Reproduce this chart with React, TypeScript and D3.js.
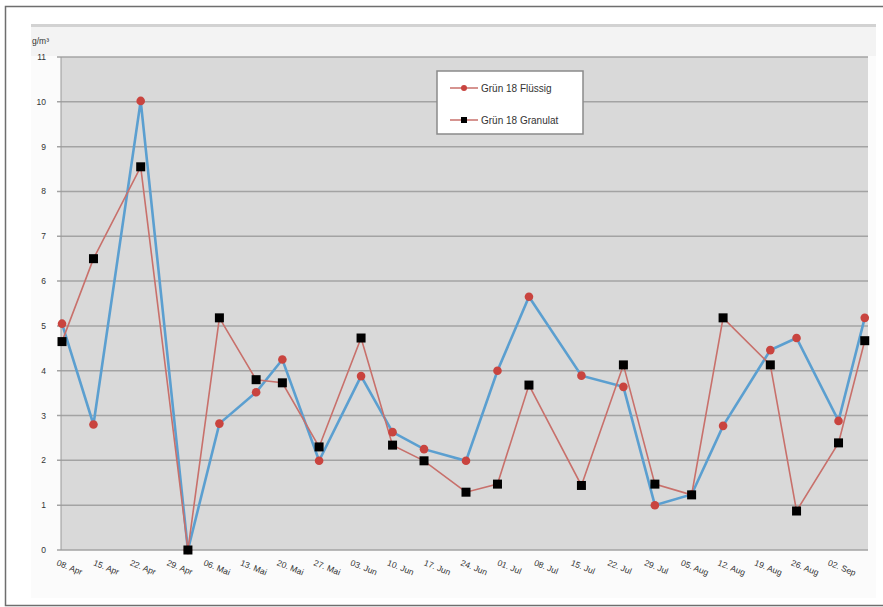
import React from 'react';
import * as d3 from 'd3';

// sample dates (2013)
const sampleDates = [
  '2013-04-08', '2013-04-14', '2013-04-23', '2013-05-02', '2013-05-08', '2013-05-15',
  '2013-05-20', '2013-05-27', '2013-06-04', '2013-06-10', '2013-06-16', '2013-06-24',
  '2013-06-30', '2013-07-06', '2013-07-16', '2013-07-24', '2013-07-30', '2013-08-06',
  '2013-08-12', '2013-08-21', '2013-08-26', '2013-09-03', '2013-09-08',
];

const fluessig = [
  5.05, 2.8, 10.02, 0, 2.82, 3.52, 4.25, 1.99, 3.88, 2.63, 2.25, 1.99,
  4.0, 5.65, 3.89, 3.64, 1.0, 1.24, 2.77, 4.46, 4.73, 2.88, 5.18,
];

const granulat = [
  4.65, 6.5, 8.55, 0, 5.18, 3.8, 3.73, 2.3, 4.73, 2.34, 1.99, 1.29,
  1.47, 3.68, 1.44, 4.13, 1.47, 1.23, 5.18, 4.13, 0.87, 2.39, 4.67,
];

const seriesNames = ['Grün 18 Flüssig', 'Grün 18 Granulat'];

const tickLabels = [
  '08. Apr', '15. Apr', '22. Apr', '29. Apr', '06. Mai', '13. Mai', '20. Mai', '27. Mai',
  '03. Jun', '10. Jun', '17. Jun', '24. Jun', '01. Jul', '08. Jul', '15. Jul', '22. Jul',
  '29. Jul', '05. Aug', '12. Aug', '19. Aug', '26. Aug', '02. Sep',
];

const yTicks = d3.range(0, 12);

const W = 883;
const H = 607;
const plot = { left: 61, right: 868, top: 57, bottom: 550 };

const blue = '#5b9fd0';
const redLine = '#c8706b';
const redDot = '#c9443f';

const App = () => {
  const parse = d3.timeParse('%Y-%m-%d');
  const dates = sampleDates.map((d) => parse(d) as Date);
  const start = parse('2013-04-08') as Date;
  const end = parse('2013-09-09') as Date;

  const x = d3.scaleTime().domain([start, end]).range([62, 870]);
  const y = d3.scaleLinear().domain([0, 11]).range([plot.bottom, plot.top]);

  const tickDates = tickLabels.map((_, i) => d3.timeDay.offset(start, i * 7));

  const line = d3
    .line<number>()
    .x((_, i) => x(dates[i]))
    .y((d) => y(d));

  const font = 'Arial, "Liberation Sans", sans-serif';

  return (
    <svg
      width={W}
      height={H}
      style={{ position: 'absolute', left: 0, top: 0, background: '#fff' }}
      fontFamily={font}
    >
      {/* outer frame */}
      <rect x={5.5} y={6.5} width={W + 10} height={H - 8} fill="#fff" stroke="#6e6e6e" strokeWidth={1.5} />

      {/* chart area */}
      <rect x={31} y={24} width={845} height={574} fill="#fbfbfb" />
      <rect x={31} y={24} width={845} height={3} fill="#d2d2d2" />
      <rect x={31} y={27} width={845} height={29} fill="#f3f3f3" />

      {/* plot area */}
      <rect
        x={plot.left}
        y={plot.top}
        width={plot.right - plot.left}
        height={plot.bottom - plot.top}
        fill="#d9d9d9"
      />
      {yTicks.map((t) => (
        <line
          key={`g${t}`}
          x1={plot.left - 4}
          x2={plot.right}
          y1={y(t)}
          y2={y(t)}
          stroke="#a3a3a3"
          strokeWidth={1.5}
        />
      ))}
      <line x1={plot.left} x2={plot.left} y1={plot.top} y2={plot.bottom} stroke="#9a9a9a" strokeWidth={1} />

      {/* y axis labels */}
      {yTicks.map((t) => (
        <text key={`y${t}`} x={46} y={y(t) + 3} textAnchor="end" fontSize={8.5} fill="#333">
          {t}
        </text>
      ))}
      <text x={32} y={44} fontSize={8.5} fill="#333">
        g/m³
      </text>

      {/* x axis labels */}
      {tickDates.map((d, i) => (
        <text
          key={`x${i}`}
          transform={`translate(${x(d) - 6},${565}) rotate(22)`}
          fontSize={8.5}
          fill="#333"
        >
          {tickLabels[i]}
        </text>
      ))}

      {/* series */}
      <path d={line(fluessig) || ''} fill="none" stroke={blue} strokeWidth={2.6} />
      <path d={line(granulat) || ''} fill="none" stroke={redLine} strokeWidth={1.6} />
      {fluessig.map((v, i) => (
        <circle key={`f${i}`} cx={x(dates[i])} cy={y(v)} r={4.3} fill={redDot} />
      ))}
      {granulat.map((v, i) => (
        <rect key={`k${i}`} x={x(dates[i]) - 4.5} y={y(v) - 4.5} width={9} height={9} fill="#000" />
      ))}

      {/* legend */}
      <rect x={437} y={71} width={146} height={63} fill="#fff" stroke="#8a8a8a" strokeWidth={1.5} />
      {seriesNames.map((name, i) => {
        const ly = 88 + i * 32;
        return (
          <g key={name}>
            <line x1={450} x2={478} y1={ly} y2={ly} stroke={redLine} strokeWidth={1.5} />
            {i === 0 ? (
              <circle cx={464} cy={ly} r={3} fill={redDot} />
            ) : (
              <rect x={461} y={ly - 3} width={6} height={6} fill="#000" />
            )}
            <text x={481} y={ly + 3.5} fontSize={10} fill="#333">
              {name}
            </text>
          </g>
        );
      })}
    </svg>
  );
};

export default App;
